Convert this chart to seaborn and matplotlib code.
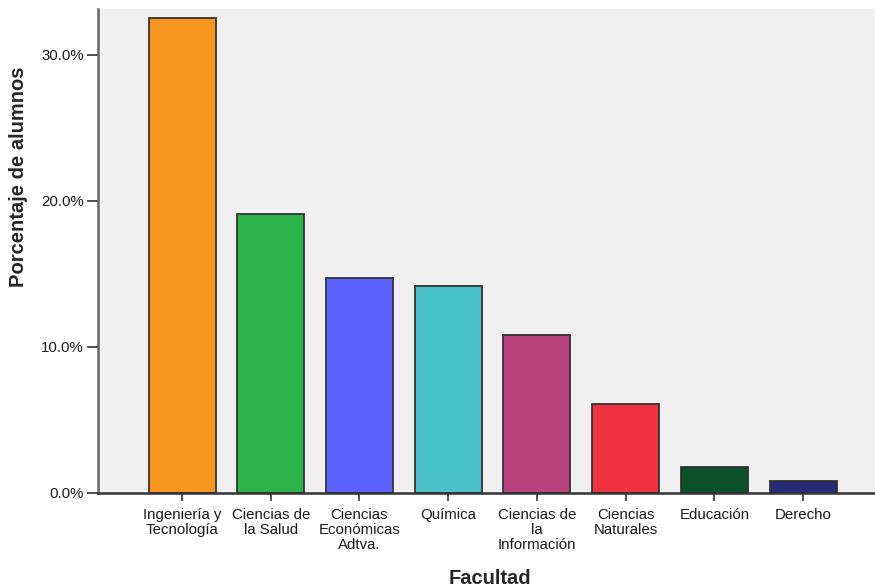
import matplotlib
matplotlib.use("Agg")
import matplotlib.pyplot as plt
import seaborn as sns
import pandas as pd
from matplotlib.ticker import FuncFormatter

categorias = ["Ingeniería y\nTecnología", "Ciencias de\nla Salud", "Ciencias\nEconómicas\nAdtva.",
              "Química", "Ciencias de\nla\nInformación", "Ciencias\nNaturales", "Educación", "Derecho"]
porcentajes = [32.5, 19.1, 14.7, 14.2, 10.85, 6.1, 1.75, 0.8]
colores = ["#F7961F", "#2DB44A", "#5C62FF", "#48C2C8", "#B9417E", "#EF3240", "#0B5129", "#272A76"]
yticks = [0, 10, 20, 30]

sns.set_style("white")
plt.rcParams['font.family'] = ['Liberation Sans', 'DejaVu Sans']

df = pd.DataFrame({"Facultad": categorias, "Porcentaje": porcentajes})

fig = plt.figure(figsize=(8.75, 5.88), dpi=100)
ax = fig.add_axes([98/875, 95/588, 1 - 98/875, (493-9)/588])
ax.set_facecolor("#F0F0F0")

sns.barplot(data=df, x="Facultad", y="Porcentaje", hue="Facultad", palette=colores,
            legend=False, width=0.755, edgecolor="#333333", linewidth=1.3, saturation=1, ax=ax)

ax.set_xlim(-0.947, 7.81)
ax.set_ylim(0, 33.15)
ax.set_yticks(yticks)
ax.yaxis.set_major_formatter(FuncFormatter(lambda v, p: f"{v:.1f}%"))

for s in ["top", "right"]:
    ax.spines[s].set_visible(False)
ax.spines["left"].set_color("#666666")
ax.spines["left"].set_linewidth(1.8)
ax.spines["bottom"].set_color("#333333")
ax.spines["bottom"].set_linewidth(1.8)

ax.tick_params(axis="y", left=True, length=8, width=1.2, color="#333333", labelsize=10.8, pad=2, labelcolor="#1a1a1a")
ax.tick_params(axis="x", bottom=True, length=6, width=1.2, color="#333333", labelsize=10.8, pad=5, labelcolor="#1a1a1a")
for lbl in ax.get_xticklabels():
    lbl.set_linespacing(1.08)
    lbl.set_multialignment("center")

ax.set_ylabel("Porcentaje de alumnos", fontsize=14.5, fontweight="bold")
ax.set_xlabel("Facultad", fontsize=14.5, fontweight="bold")
ax.yaxis.set_label_coords(-(98 - 19) / 777, (493 - 177) / 484)
ax.xaxis.set_label_coords((490 - 98) / 777, -(578 - 493) / 484)
ax.xaxis.label.set_va("center")
ax.yaxis.label.set_va("center")

fig.savefig("out.png", dpi=100)
